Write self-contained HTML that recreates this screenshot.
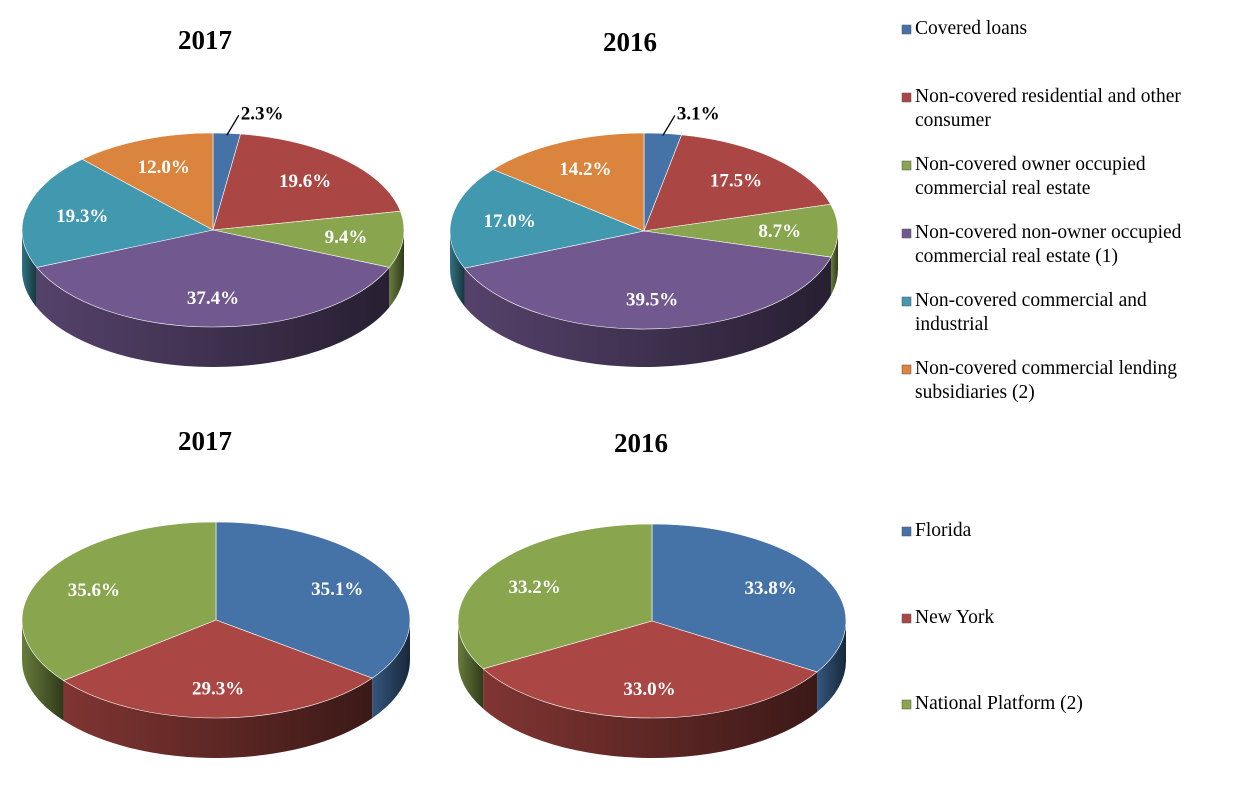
<!DOCTYPE html>
<html><head><meta charset="utf-8">
<style>
body{margin:0;background:#fff;}
svg{display:block;font-family:"Liberation Serif",serif;}
.t{font-size:27px;font-weight:bold;fill:#000;}
.lg{font-size:19.5px;fill:#000;}
.lb{font-size:19px;font-weight:bold;}
</style></head><body>
<svg id="c" width="1234" height="803" viewBox="0 0 1234 803" xmlns="http://www.w3.org/2000/svg">
<text class="t" x="205" y="49" text-anchor="middle">2017</text>
<text class="t" x="630" y="51" text-anchor="middle">2016</text>
<text class="t" x="205" y="450" text-anchor="middle">2017</text>
<text class="t" x="641" y="452" text-anchor="middle">2016</text>
</svg>
<script>
const loanCategories=["Covered loans","Non-covered residential and other consumer","Non-covered owner occupied commercial real estate","Non-covered non-owner occupied commercial real estate (1)","Non-covered commercial and industrial","Non-covered commercial lending subsidiaries (2)"];
const loans2017=[2.3,19.6,9.4,37.4,19.3,12.0];
const loans2016=[3.1,17.5,8.7,39.5,17.0,14.2];
const regionCategories=["Florida","New York","National Platform (2)"];
const region2017=[35.1,29.3,35.6];
const region2016=[33.8,33.0,33.2];
const loanColors=["#4572A7","#AA4643","#89A54E","#71588F","#4198AF","#DB843D"];
const regionColors=["#4572A7","#AA4643","#89A54E"];
const NS="http://www.w3.org/2000/svg";
const svg=document.getElementById('c');
function mk(tag,attrs,parent){const e=document.createElementNS(NS,tag);for(const k in attrs)e.setAttribute(k,attrs[k]);(parent||svg).appendChild(e);return e;}
function shade(hex,f){const n=parseInt(hex.slice(1),16);const r=Math.round(((n>>16)&255)*f),g=Math.round(((n>>8)&255)*f),b=Math.round((n&255)*f);return `rgb(${r},${g},${b})`;}
let gid=0;
function pie(vals,colors,cx,cy,rx,ry,depth,name){
  const g=mk('g',{});
  
  
  const total=vals.reduce((a,b)=>a+b,0);
  const P=(t,d)=>[cx+rx*Math.sin(t),cy-ry*Math.cos(t)+(d||0)];
  let acc=0;const sl=[];
  vals.forEach((v,i)=>{const s=acc/total*2*Math.PI;acc+=v;const e=acc/total*2*Math.PI;sl.push([s,e]);});
  sl.forEach(([s,e],i)=>{
    const a=Math.max(s,Math.PI/2),b=Math.min(e,1.5*Math.PI);
    if(b<=a)return;
    const id='gr'+(gid++);
    const lgd=mk('linearGradient',{id:id,x1:'0',y1:'0',x2:'1',y2:'0'},g);
    mk('stop',{offset:'0','stop-color':shade(colors[i],0.75)},lgd);
    mk('stop',{offset:'1','stop-color':shade(colors[i],0.35)},lgd);
    const p1=P(a),p2=P(b),p3=P(b,depth),p4=P(a,depth);
    const lg=(b-a)>Math.PI?1:0;
    const side=mk('path',{d:`M${p1} A${rx},${ry} 0 ${lg} 1 ${p2} L${p3} A${rx},${ry} 0 ${lg} 0 ${p4} Z`,fill:`url(#${id})`},g);
    
    
  });
  sl.forEach(([s,e],i)=>{
    const lg=(e-s)>Math.PI?1:0;
    const p1=P(s),p2=P(e);
    const top=mk('path',{d:`M${cx},${cy} L${p1} A${rx},${ry} 0 ${lg} 1 ${p2} Z`,fill:colors[i],stroke:'#fff','stroke-width':'0.6'},g);
    
    
  });
  sl.forEach(([s,e],i)=>{
    const m=(s+e)/2;
    let x,y,fill='#fff',anchor='middle';
    if(vals[i]/total<0.05){
      const q=P(m);
      const q2=[q[0]+12,q[1]-18];
      const ln=mk('path',{d:`M${q[0]},${q[1]+2} L${q2}`,stroke:'#000','stroke-width':'1.3',fill:'none'},g);
      
      
      x=q2[0]+2;y=q2[1]+4;fill='#000';anchor='start';
    }else{
      x=cx+rx*0.7*Math.sin(m);y=cy-ry*0.7*Math.cos(m)+6;
    }
    const t=mk('text',{x:x,y:y,'text-anchor':anchor,fill:fill,class:'lb'},g);
    t.textContent=vals[i].toFixed(1)+'%';
    
    
  });
}
pie(loans2017,loanColors,213,230,191,97,40,'pie-loans-2017');
pie(loans2016,loanColors,644,231,194,98,38,'pie-loans-2016');
pie(region2017,regionColors,216,620,194,98,40,'pie-region-2017');
pie(region2016,regionColors,652,621,194,97,40,'pie-region-2016');
function legend(cats,colors,ys){
  cats.forEach((c,i)=>{
    const g=mk('g',{});
    
    
    mk('rect',{x:902,y:ys[i]-9,width:9,height:9,fill:colors[i],stroke:'#555','stroke-width':'0.5'},g);
    const lines=c.length>34?wrap(c):[c];
    lines.forEach((l,k)=>{const t=mk('text',{x:915,y:ys[i]+k*24,class:'lg'},g);t.textContent=l;});
  });
}
function wrap(c){const w=c.split(' ');let a='',r=[];w.forEach(x=>{if((a+' '+x).trim().length>34){r.push(a.trim());a=x;}else a+=' '+x;});r.push(a.trim());return r;}
legend(loanCategories,loanColors,[34,102,170,238,306,374]);
legend(regionCategories,regionColors,[536,623,709]);
</script>
</body></html>
